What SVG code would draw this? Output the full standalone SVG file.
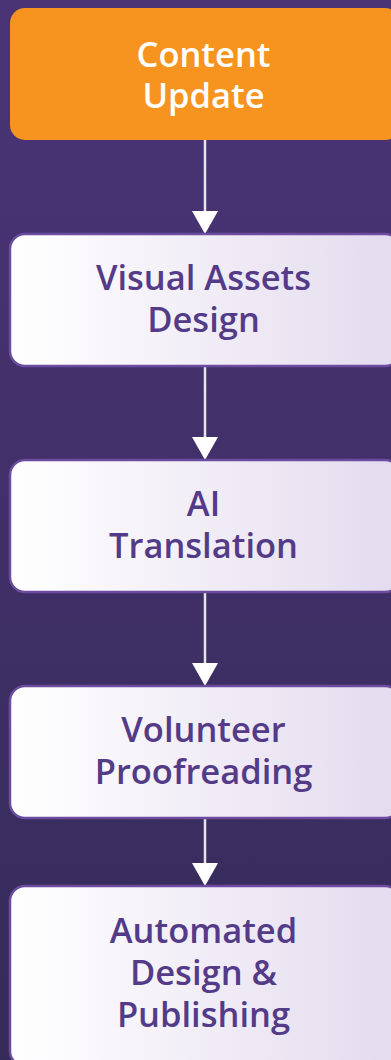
<svg xmlns="http://www.w3.org/2000/svg" width="391" height="1060" viewBox="0 0 391 1060">
<defs>
<linearGradient id="bg" x1="0" y1="0" x2="0" y2="1">
<stop offset="0" stop-color="#4b3476"/>
<stop offset="1" stop-color="#352b59"/>
</linearGradient>
<linearGradient id="boxg" x1="0" y1="0" x2="1" y2="0">
<stop offset="0" stop-color="#ffffff"/>
<stop offset="1" stop-color="#e3dbee"/>
</linearGradient>
</defs>
<style>
.lbl{font-family:"Open Sans","Noto Sans",sans-serif;font-weight:600;font-size:34.5px;text-anchor:middle}
.w{fill:#ffffff}
.p{fill:#533b88}
.box{fill:url(#boxg);stroke:#6b4ca0;stroke-width:2.5}
.ln{stroke:#e6e4ee;stroke-width:2.5}
.hd{fill:#ffffff}
</style>
<rect x="0" y="0" width="391" height="1060" fill="url(#bg)"/>
<g id="connectors">
<line class="ln" x1="205" y1="140" x2="205" y2="214"/>
<polygon class="hd" points="192,211 218,211 205,234"/>
<line class="ln" x1="205" y1="366" x2="205" y2="440"/>
<polygon class="hd" points="192,437 218,437 205,460"/>
<line class="ln" x1="205" y1="592" x2="205" y2="666"/>
<polygon class="hd" points="192,663 218,663 205,686"/>
<line class="ln" x1="205" y1="818" x2="205" y2="866"/>
<polygon class="hd" points="192,863 218,863 205,886"/>
</g>
<g id="n1">
<rect x="10" y="8" width="390" height="132" rx="15" fill="#f7941f"/>
<text class="lbl w" x="203.5" y="67">Content</text>
<text class="lbl w" x="203.5" y="108">Update</text>
</g>
<g id="n2">
<rect class="box" x="10" y="234" width="390" height="132" rx="15"/>
<text class="lbl p" x="203.5" y="290">Visual Assets</text>
<text class="lbl p" x="203.5" y="332">Design</text>
</g>
<g id="n3">
<rect class="box" x="10" y="460" width="390" height="132" rx="15"/>
<text class="lbl p" x="203.5" y="516">AI</text>
<text class="lbl p" x="203.5" y="558">Translation</text>
</g>
<g id="n4">
<rect class="box" x="10" y="686" width="390" height="132" rx="15"/>
<text class="lbl p" x="203.5" y="742">Volunteer</text>
<text class="lbl p" x="203.5" y="784">Proofreading</text>
</g>
<g id="n5">
<rect class="box" x="10" y="886" width="390" height="180" rx="15"/>
<text class="lbl p" x="203.5" y="943">Automated</text>
<text class="lbl p" x="203.5" y="985">Design &amp;</text>
<text class="lbl p" x="203.5" y="1027">Publishing</text>
</g>
</svg>
